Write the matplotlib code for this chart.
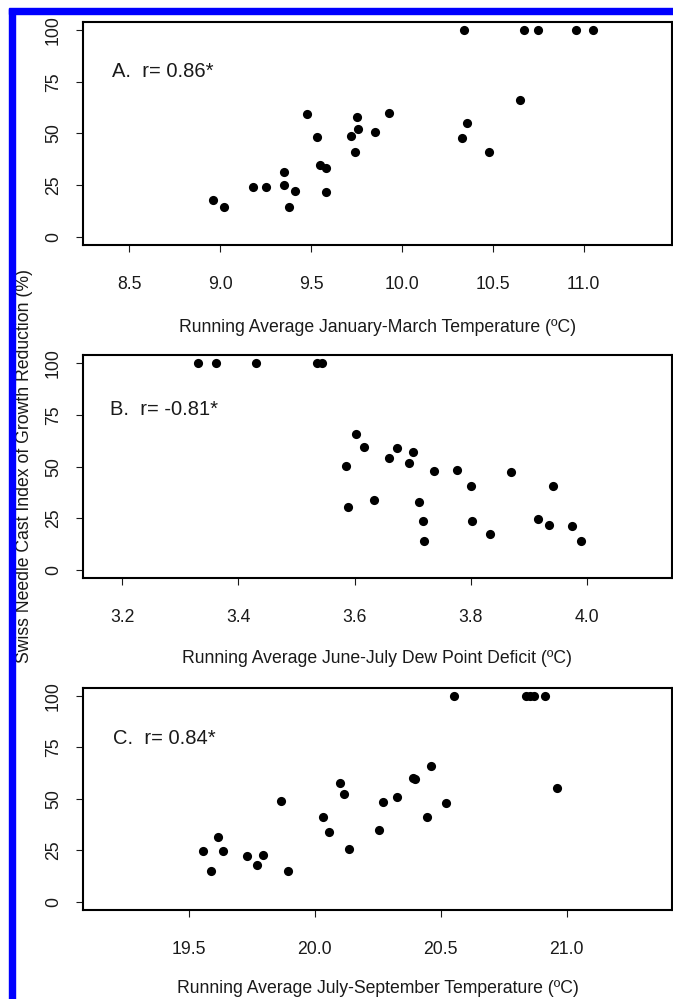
import matplotlib
matplotlib.use('Agg')
import matplotlib.pyplot as plt
from matplotlib.patches import Rectangle

plt.rcParams['font.family'] = ['Liberation Sans', 'DejaVu Sans']

# SNC growth reduction index vs. three running-average climate variables
jm_temp = [10.34, 10.67, 10.75, 10.96, 11.05, 10.65, 9.48, 9.93, 9.75, 9.76,
           9.85, 9.72, 9.53, 10.36, 10.33, 10.48, 9.74, 9.55, 9.58, 9.35,
           9.18, 9.25, 9.35, 9.41, 9.58, 8.96, 9.02, 9.38]
snc_a = [100, 100, 100, 100, 100, 66.0, 59.5, 60.0, 57.7, 52.2,
         50.7, 48.8, 48.3, 55.0, 47.8, 40.8, 40.8, 34.6, 33.5, 31.1,
         24.1, 24.1, 25.0, 22.3, 21.8, 17.6, 14.3, 14.3]

jj_dpd = [3.331, 3.362, 3.430, 3.536, 3.544, 3.602, 3.617, 3.673, 3.701, 3.659,
          3.694, 3.585, 3.737, 3.777, 3.869, 3.801, 3.941, 3.633, 3.711, 3.588,
          3.718, 3.803, 3.915, 3.935, 3.975, 3.833, 3.719, 3.989]
snc_b = [100, 100, 100, 100, 100, 65.6, 59.4, 58.9, 57.3, 54.4,
         51.6, 50.2, 47.9, 48.2, 47.4, 40.4, 40.4, 33.9, 33.0, 30.7,
         23.5, 23.5, 24.5, 21.9, 21.4, 17.2, 14.0, 14.0]

js_temp = [20.553, 20.839, 20.854, 20.868, 20.913, 20.460, 20.391, 20.397, 20.098, 20.115,
           20.325, 19.865, 20.272, 20.522, 20.961, 20.032, 20.444, 20.056, 20.254, 20.137,
           19.614, 19.556, 19.637, 19.731, 19.793, 19.769, 19.587, 19.894]
snc_c = [100, 100, 100, 100, 100, 66.1, 59.9, 59.5, 57.8, 52.3,
         50.9, 49.1, 48.5, 48.1, 55.1, 41.2, 41.2, 33.8, 34.7, 25.4,
         31.7, 24.6, 24.6, 22.3, 22.8, 18.1, 14.9, 14.9]

yticks = [0, 25, 50, 75, 100]
xticks_a = [8.5, 9.0, 9.5, 10.0, 10.5, 11.0]
xticks_b = [3.2, 3.4, 3.6, 3.8, 4.0]
xticks_c = [19.5, 20.0, 20.5, 21.0]

xlabel_a = 'Running Average January-March Temperature (ºC)'
xlabel_b = 'Running Average June-July Dew Point Deficit (ºC)'
xlabel_c = 'Running Average July-September Temperature (ºC)'
ylabel = 'Swiss Needle Cast Index of Growth Reduction (%)'

notes = ['A.  r= 0.86*', 'B.  r= -0.81*', 'C.  r= 0.84*']

W, H = 673, 999
txt = '#1a1a1a'

fig = plt.figure(figsize=(W / 100, H / 100), dpi=100)


def px_axes(left, top, right, bottom):
    return fig.add_axes([left / W, 1 - bottom / H, (right - left) / W, (bottom - top) / H])


def draw_panel(ax, x, y, xlim, xticks, xlabel, note, note_xy, label_off):
    ax.plot(x, y, 'o', color='black', ms=6.6, mew=0)
    ax.set_xlim(xlim)
    ax.set_ylim(-4, 104)
    ax.set_xticks(xticks)
    ax.set_xticklabels(['%.1f' % t for t in xticks])
    ax.set_yticks(yticks)
    ax.set_yticklabels([str(t) for t in yticks], rotation=90, va='center')
    for sp in ax.spines.values():
        sp.set_linewidth(1.5)
    ax.tick_params(axis='both', length=5, width=0.8, labelsize=12.7, colors=txt)
    ax.tick_params(axis='x', pad=17)
    ax.tick_params(axis='y', pad=10)
    ax.text(note_xy[0], note_xy[1], note, transform=ax.transAxes,
            ha='left', va='center', fontsize=14.5, color=txt)
    ax.set_xlabel(xlabel, fontsize=12.7, color=txt)
    h_px = ax.get_position().height * H
    ax.xaxis.set_label_coords(0.5, -label_off / h_px)
    ax.xaxis.label.set_verticalalignment('center')


ax_a = px_axes(82.7, 21.8, 672.3, 245)
ax_b = px_axes(82.7, 355, 672.3, 578.3)
ax_c = px_axes(82.7, 687.7, 672.3, 910)

draw_panel(ax_a, jm_temp, snc_a, (8.244, 11.487), xticks_a, xlabel_a, notes[0], (0.049, 0.778), 83)
draw_panel(ax_b, jj_dpd, snc_b, (3.132, 4.147), xticks_b, xlabel_b, notes[1], (0.046, 0.758), 80)
draw_panel(ax_c, js_temp, snc_c, (19.078, 21.419), xticks_c, xlabel_c, notes[2], (0.051, 0.770), 78.5)

fig.text(24.5 / W, 1 - 466 / H, ylabel, rotation=90, ha='center', va='center',
         fontsize=12.7, color=txt)

# blue frame along the left and top edges
fig.patches.append(Rectangle((9 / W, 0), 5.5 / W, 1 - 9 / H, transform=fig.transFigure,
                             color='#0000ff', zorder=5))
fig.patches.append(Rectangle((9 / W, 1 - 14 / H), 1 - 9 / W, 5.5 / H, transform=fig.transFigure,
                             color='#0000ff', zorder=5))

fig.savefig('out.png', dpi=100)
